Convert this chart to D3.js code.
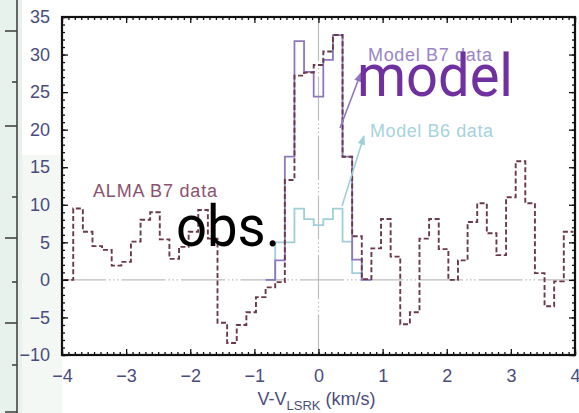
<!DOCTYPE html>
<html>
<head>
<meta charset="utf-8">
<script src="https://cdn.jsdelivr.net/npm/d3@7/dist/d3.min.js"></script>
<style>
  html, body { margin: 0; padding: 0; background: #ffffff; }
  svg { display: block; }
</style>
</head>
<body>
<svg id="chart" width="579" height="413"></svg>
<script>
// ---- data ----
const chanWidth = 0.15;
const obsVelocity = [-3.9, -3.75, -3.6, -3.45, -3.3, -3.15, -3.0, -2.85, -2.7, -2.55, -2.4, -2.25, -2.1, -1.95, -1.8, -1.65,
  -1.5, -1.35, -1.2, -1.05, -0.9, -0.75, -0.6, -0.45, -0.3, -0.15, 0, 0.15, 0.3, 0.45, 0.6, 0.75, 0.9, 1.05, 1.2, 1.35,
  1.5, 1.65, 1.8, 1.95, 2.1, 2.25, 2.4, 2.55, 2.7, 2.85, 3.0, 3.15, 3.3, 3.45, 3.6, 3.75, 3.9];
const almaB7 = [0, 9.5, 6.4, 4.5, 4.0, 1.9, 2.4, 5.1, 8.0, 9.0, 5.4, 2.8, 4.4, 6.4, 9.3, 5.5,
  -5.7, -8.4, -6.0, -4.3, -2.3, -1.0, -0.3, 13.3, 27.2, 27.6, 28.6, 30.4, 32.6, 16.4, 5.8, 0.1, 4.2, 8.1, 3.1, -5.9,
  -4.3, 5.5, 8.1, 4.1, 0, 2.6, 7.7, 10.2, 6.2, 3.3, 11.0, 15.8, 10.2, 0.9, -3.5, -0.2, 6.4];
const modelVelocity = [-0.75, -0.6, -0.45, -0.3, -0.15, 0, 0.15, 0.3, 0.45, 0.6, 0.75];
const modelB7 = [0, 2.6, 16.4, 31.8, 27.7, 24.4, 29.3, 32.6, 16.4, 2.7, 0];
const modelB6 = [0, 5.0, 5.0, 9.5, 8.1, 7.3, 8.1, 9.5, 5.1, 0.9, 0];
const xMajorTicks = [-4, -3, -2, -1, 0, 1, 2, 3, 4];
const yMajorTicks = [-10, -5, 0, 5, 10, 15, 20, 25, 30, 35];
// decorative ruler of the slide background (left edge)
const rulerTicks = [31, 82, 126, 197, 238, 282, 323, 365, 412];

// ---- layout ----
const svg = d3.select("#chart");
const W = 579, H = 413;
const plot = { left: 62, right: 575, top: 17, bottom: 355 };
const x = d3.scaleLinear().domain([-4, 4]).range([plot.left, plot.right]);
const y = d3.scaleLinear().domain([-10, 35]).range([plot.bottom, plot.top]);
const FONT = "'Liberation Sans', Arial, Helvetica, sans-serif";
const axisColor = "#4a4c7e";

// slide background strip
svg.append("rect").attr("x", 0).attr("y", 0).attr("width", 22).attr("height", H).attr("fill", "#e7f2ec");
svg.append("rect").attr("x", 22).attr("y", 155).attr("width", 40).attr("height", H - 155).attr("fill", "#f3f8f5");
svg.append("line").attr("x1", 17).attr("x2", 17).attr("y1", 0).attr("y2", H)
  .attr("stroke", "#3a3a3a").attr("stroke-width", 1.5);
svg.selectAll("line.ruler").data(rulerTicks).enter().append("line")
  .attr("class", "ruler")
  .attr("x1", (d, i) => i % 2 === 0 ? 5 : 12).attr("x2", 17)
  .attr("y1", d => d).attr("y2", d => d)
  .attr("stroke", "#3a3a3a").attr("stroke-width", 1.5);

// zero reference lines
const refDash = "44,3,1.5,2.5,1.5,2.5,1.5,3";
svg.append("line").attr("x1", x(-4)).attr("x2", x(4)).attr("y1", y(0)).attr("y2", y(0))
  .attr("stroke", "#bdbdbd").attr("stroke-width", 1.2).attr("stroke-dasharray", refDash);
svg.append("line").attr("x1", x(0)).attr("x2", x(0)).attr("y1", y(35)).attr("y2", y(-10))
  .attr("stroke", "#bdbdbd").attr("stroke-width", 1.2).attr("stroke-dasharray", refDash);

// step path builder
function stepPoints(vel, vals) {
  const pts = [];
  vel.forEach((v, i) => {
    const a = Math.max(-4, v - chanWidth / 2), b = Math.min(4, v + chanWidth / 2);
    pts.push([a, vals[i]], [b, vals[i]]);
  });
  return pts;
}
const line = d3.line().x(d => x(d[0])).y(d => y(d[1]));

svg.append("path").datum(stepPoints(modelVelocity, modelB6))
  .attr("d", line).attr("fill", "none").attr("stroke", "#9fd0d9").attr("stroke-width", 1.8);
svg.append("path").datum(stepPoints(modelVelocity, modelB7))
  .attr("d", line).attr("fill", "none").attr("stroke", "#8e77bd").attr("stroke-width", 1.8);
svg.append("path").datum(stepPoints(obsVelocity, almaB7))
  .attr("d", line).attr("fill", "none").attr("stroke", "#6a3a4c").attr("stroke-width", 1.9)
  .attr("stroke-dasharray", "5,2.6");

// axes with inward ticks
function styleAxis(g) {
  g.select(".domain").remove();
  g.selectAll("line").attr("stroke", "#111").attr("stroke-width", 1.3);
  g.selectAll("text").attr("font-family", FONT).attr("font-size", 18).attr("fill", axisColor);
}
const xMinor = d3.range(-40, 41).map(d => d / 10);
const yMinor = d3.range(-10, 36);

svg.append("g").attr("transform", `translate(0,${plot.bottom})`)
  .call(d3.axisBottom(x).tickValues(xMinor).tickSize(-3).tickFormat("")).call(styleAxis);
svg.append("g").attr("transform", `translate(0,${plot.bottom})`)
  .call(d3.axisBottom(x).tickValues(xMajorTicks).tickSize(-6).tickPadding(14).tickFormat(d3.format("d")))
  .call(styleAxis);
svg.append("g").attr("transform", `translate(0,${plot.top})`)
  .call(d3.axisTop(x).tickValues(xMinor).tickSize(-3).tickFormat("")).call(styleAxis);
svg.append("g").attr("transform", `translate(0,${plot.top})`)
  .call(d3.axisTop(x).tickValues(xMajorTicks).tickSize(-6).tickFormat("")).call(styleAxis);

svg.append("g").attr("transform", `translate(${plot.left},0)`)
  .call(d3.axisLeft(y).tickValues(yMinor).tickSize(-3).tickFormat("")).call(styleAxis);
svg.append("g").attr("transform", `translate(${plot.left},0)`)
  .call(d3.axisLeft(y).tickValues(yMajorTicks).tickSize(-6).tickPadding(12).tickFormat(d3.format("d")))
  .call(styleAxis);
svg.append("g").attr("transform", `translate(${plot.right},0)`)
  .call(d3.axisRight(y).tickValues(yMinor).tickSize(-3).tickFormat("")).call(styleAxis);
svg.append("g").attr("transform", `translate(${plot.right},0)`)
  .call(d3.axisRight(y).tickValues(yMajorTicks).tickSize(-6).tickFormat("")).call(styleAxis);

// frame
svg.append("rect").attr("x", plot.left).attr("y", plot.top)
  .attr("width", plot.right - plot.left).attr("height", plot.bottom - plot.top)
  .attr("fill", "none").attr("stroke", "#111").attr("stroke-width", 2.2);

// x axis title
const xt = svg.append("text").attr("x", (plot.left + plot.right) / 2 - 2).attr("y", 405)
  .attr("text-anchor", "middle").attr("font-family", FONT).attr("font-size", 18).attr("fill", axisColor);
xt.append("tspan").text("V-V");
xt.append("tspan").attr("font-size", 13).attr("dy", 5).text("LSRK");
xt.append("tspan").attr("dy", -5).text(" (km/s)");

// labels
svg.append("text").attr("x", 93).attr("y", 197).attr("font-family", FONT).attr("font-size", 18)
  .attr("textLength", 124).attr("fill", "#8a5270").text("ALMA B7 data");
svg.append("text").attr("x", 368).attr("y", 61).attr("font-family", FONT).attr("font-size", 18)
  .attr("textLength", 124).attr("fill", "#9a86c6").text("Model B7 data");
svg.append("text").attr("x", 370).attr("y", 137).attr("font-family", FONT).attr("font-size", 18)
  .attr("textLength", 123).attr("fill", "#a6d3dc").text("Model B6 data");

// arrows
const defs = svg.append("defs");
function marker(id, color) {
  defs.append("marker").attr("id", id).attr("viewBox", "0 0 10 10").attr("refX", 9).attr("refY", 5)
    .attr("markerWidth", 6).attr("markerHeight", 6).attr("orient", "auto")
    .append("path").attr("d", "M0,1 L10,5 L0,9 Z").attr("fill", color);
}
marker("arrP", "#8e77bd");
marker("arrC", "#9fd0d9");
svg.append("line").attr("x1", 340).attr("y1", 128).attr("x2", 361).attr("y2", 73)
  .attr("stroke", "#8e77bd").attr("stroke-width", 1.6).attr("marker-end", "url(#arrP)");
svg.append("line").attr("x1", 342).attr("y1", 206).attr("x2", 364).attr("y2", 136)
  .attr("stroke", "#9fd0d9").attr("stroke-width", 1.6).attr("marker-end", "url(#arrC)");

// annotations
svg.append("text").attr("x", 357).attr("y", 96).attr("font-family", "Roboto, 'Noto Sans', sans-serif")
  .attr("font-size", 60).attr("textLength", 156).attr("lengthAdjust", "spacingAndGlyphs")
  .attr("fill", "#7030a0").text("model");
svg.append("text").attr("x", 176).attr("y", 246).attr("font-family", "Roboto, 'Noto Sans', sans-serif")
  .attr("font-size", 58).attr("textLength", 104).attr("lengthAdjust", "spacingAndGlyphs")
  .attr("fill", "#000").text("obs.");
</script>
</body>
</html>
